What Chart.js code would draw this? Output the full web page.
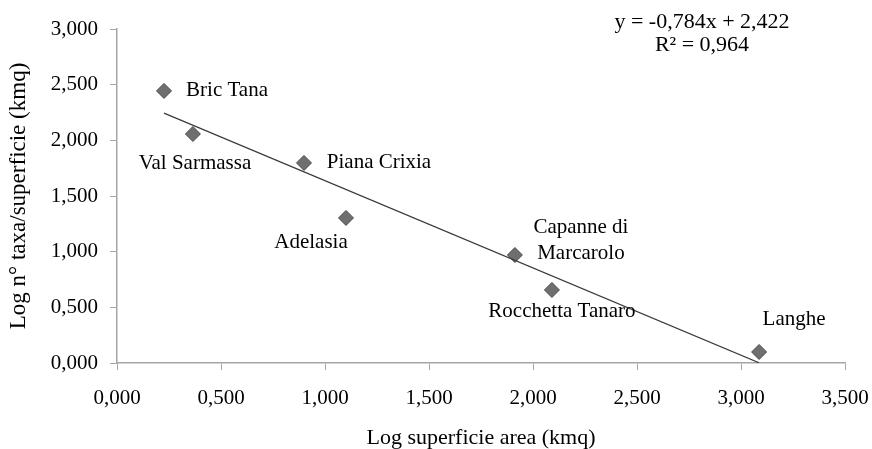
<!DOCTYPE html>
<html>
<head>
<meta charset="utf-8">
<script src="https://cdn.jsdelivr.net/npm/chart.js@4"></script>
<style>
html,body{margin:0;padding:0;background:#fff;}
#wrap{width:872px;height:449px;position:relative;}
</style>
</head>
<body>
<div id="wrap"><canvas id="c" width="872" height="449"></canvas></div>
<script>
// Data
const siteNames = ["Bric Tana", "Val Sarmassa", "Piana Crixia", "Adelasia", ["Capanne di", "Marcarolo"], "Rocchetta Tanaro", "Langhe"];
const logArea = [0.226, 0.365, 0.899, 1.101, 1.913, 2.091, 3.087];
const logTaxa = [2.444, 2.057, 1.797, 1.303, 0.970, 0.656, 0.099];
const trendSlope = -0.784;
const trendIntercept = 2.422;
const equationText = ["y = -0,784x + 2,422", "R² = 0,964"];
const xTitle = "Log superficie area (kmq)";
const yTitle = "Log n° taxa/superficie (kmq)";

// label offsets (styling, px from point to text centre)
const labelOffsets = [[63,0],[2,29],[75,0],[-35,25],[66,-15],[10,22],[35,-32]];

const FONT = "'Liberation Serif', 'Times New Roman', serif";
const fmt = v => Number(v).toFixed(3).replace('.', ',');

const xMin = Math.min(...logArea), xMax = Math.max(...logArea);
const trendPts = [xMin, xMax].map(x => ({x, y: trendSlope * x + trendIntercept}));

const labelPlugin = {
  id: 'labels',
  afterDatasetsDraw(chart) {
    const ctx = chart.ctx;
    const meta = chart.getDatasetMeta(1);
    ctx.save();
    ctx.font = "21px " + FONT;
    ctx.fillStyle = "#000";
    ctx.textAlign = "center";
    ctx.textBaseline = "middle";
    meta.data.forEach((el, i) => {
      const [dx, dy] = labelOffsets[i];
      const lines = Array.isArray(siteNames[i]) ? siteNames[i] : [siteNames[i]];
      const lh = 26;
      lines.forEach((ln, j) => {
        ctx.fillText(ln, el.x + dx, el.y + dy + (j - (lines.length - 1) / 2) * lh);
      });
    });
    // equation
    ctx.font = "22px " + FONT;
    ctx.fillText(equationText[0], 702, 22);
    ctx.fillText(equationText[1], 702, 45);
    ctx.restore();
  }
};

new Chart(document.getElementById('c'), {
  type: 'scatter',
  data: {
    datasets: [
      {
        type: 'line',
        data: trendPts,
        borderColor: '#3a3a3a',
        borderWidth: 1.2,
        pointRadius: 0,
        fill: false
      },
      {
        data: logArea.map((x, i) => ({x, y: logTaxa[i]})),
        pointStyle: 'rectRot',
        pointRadius: 7.5,
        pointHoverRadius: 7.5,
        backgroundColor: '#6f6f6f',
        borderColor: '#4a4a4a',
        borderWidth: 1
      }
    ]
  },
  options: {
    responsive: false,
    animation: false,
    devicePixelRatio: 1,
    layout: { padding: { top: 29, right: 27, left: 0, bottom: 0 } },
    plugins: { legend: { display: false }, tooltip: { enabled: false } },
    scales: {
      x: {
        type: 'linear',
        min: 0, max: 3.5,
        afterFit(s) { s.height = 86; s.paddingLeft = 0; s.paddingRight = 0; },
        ticks: { stepSize: 0.5, callback: v => fmt(v), color: '#000', font: { family: FONT, size: 21 }, padding: 16, maxRotation: 0 },
        grid: { drawOnChartArea: false, drawTicks: true, tickLength: 7, color: '#a6a6a6' },
        border: { color: '#a6a6a6', width: 1.5 },
        title: { display: true, text: xTitle, color: '#000', font: { family: FONT, size: 22 }, padding: { top: 0, bottom: -2 } }
      },
      y: {
        type: 'linear',
        min: 0, max: 3,
        afterFit(s) { s.width = 117; s.paddingTop = 0; s.paddingBottom = 0; },
        ticks: { stepSize: 0.5, callback: v => fmt(v), color: '#000', font: { family: FONT, size: 21 }, padding: 12 },
        grid: { drawOnChartArea: false, drawTicks: true, tickLength: 7, color: '#a6a6a6' },
        border: { color: '#a6a6a6', width: 1.5 },
        title: { display: true, text: yTitle, color: '#000', font: { family: FONT, size: 23 }, padding: { top: 5, bottom: 0 } }
      }
    }
  },
  plugins: [labelPlugin]
});
</script>
</body>
</html>
